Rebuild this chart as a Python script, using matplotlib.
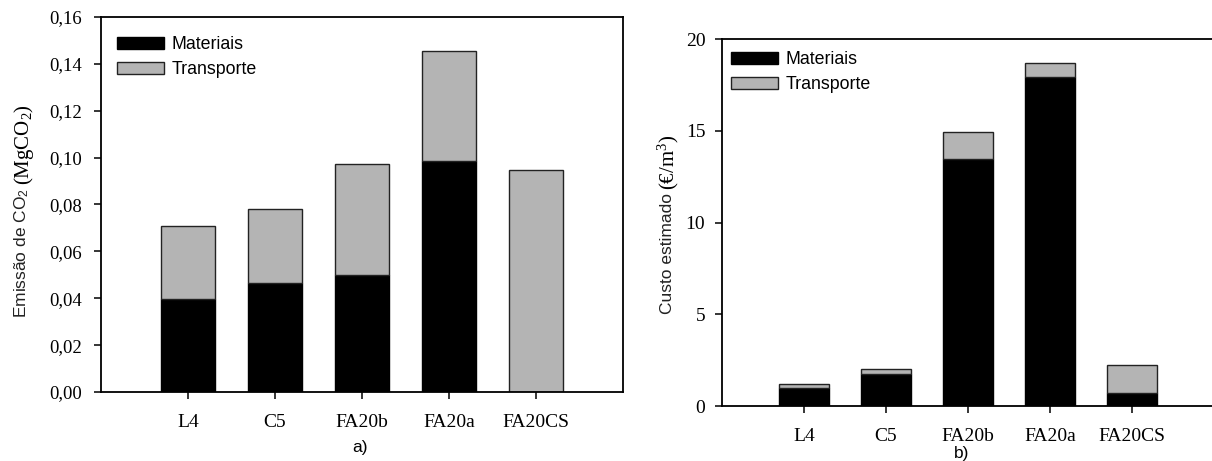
import numpy as np
import matplotlib
matplotlib.use("Agg")
import matplotlib.pyplot as plt
from matplotlib.patches import Patch
from matplotlib.ticker import FuncFormatter

plt.rcParams['mathtext.fontset'] = 'custom'
plt.rcParams['mathtext.rm'] = 'Liberation Serif'
plt.rcParams['mathtext.it'] = 'Liberation Serif:italic'
plt.rcParams['mathtext.sf'] = 'Liberation Sans'

# data
misturas = ["L4", "C5", "FA20b", "FA20a", "FA20CS"]
co2_materiais = [0.0398, 0.0467, 0.0499, 0.0984, 0.0]
co2_transporte = [0.0310, 0.0314, 0.0473, 0.0473, 0.0947]
custo_materiais = [0.96, 1.74, 13.46, 17.91, 0.69]
custo_transporte = [0.22, 0.28, 1.49, 0.80, 1.53]
co2_ticks = [0.00, 0.02, 0.04, 0.06, 0.08, 0.10, 0.12, 0.14, 0.16]
custo_ticks = [0, 5, 10, 15, 20]

cinza = '#b4b4b4'
serif = 'Liberation Serif'
sans = 'Liberation Sans'
W, H = 1212, 461

fig = plt.figure(figsize=(W / 100, H / 100), dpi=100)
ax1 = fig.add_axes([101 / W, 1 - 392 / H, (623 - 101) / W, (392 - 17) / H])
ax2 = fig.add_axes([722 / W, 1 - 406 / H, (1214 - 722) / W, (406 - 39) / H])

x = np.arange(len(misturas))
largura = 0.61

for ax, mat, tra in [(ax1, co2_materiais, co2_transporte),
                     (ax2, custo_materiais, custo_transporte)]:
    ax.bar(x, mat, largura, color='black', edgecolor='black', linewidth=1.0)
    ax.bar(x, tra, largura, bottom=mat, color=cinza, edgecolor='#222222', linewidth=1.0)
    ax.set_xlim(-1, 5)
    ax.set_xticks(x)
    ax.set_xticklabels(misturas, fontfamily=serif, fontsize=14)
    ax.tick_params(axis='x', direction='out', length=5, width=1.1, pad=11, top=False)
    ax.tick_params(axis='y', direction='out', length=5, width=1.1, right=False)
    for s in ax.spines.values():
        s.set_linewidth(1.3)

ax1.set_ylim(0, 0.16)
ax1.set_yticks(co2_ticks)
ax1.yaxis.set_major_formatter(FuncFormatter(lambda v, p: f"{v:.2f}".replace('.', ',')))
ax1.tick_params(axis='y', pad=9)
for t in ax1.get_yticklabels():
    t.set_fontfamily(serif)
    t.set_fontsize(13.5)

ax2.set_ylim(0, 20)
ax2.set_yticks(custo_ticks)
ax2.tick_params(axis='y', pad=7)
for t in ax2.get_yticklabels():
    t.set_fontfamily(serif)
    t.set_fontsize(14)
ax2.spines['right'].set_visible(False)

# y labels: sans part + serif part
fig.text(22 / W, 1 - 188 / H, r"Emissão de CO$_\mathsf{2}$", rotation=90, rotation_mode='anchor',
         ha='right', va='center', fontfamily=sans, fontsize=12.5, color='#222222')
fig.text(24 / W, 1 - 185 / H, r"$\mathrm{(MgCO_2)}$", rotation=90, rotation_mode='anchor',
         ha='left', va='center', fontsize=15)
fig.text(668 / W, 1 - 193 / H, "Custo estimado", rotation=90, rotation_mode='anchor',
         ha='right', va='center', fontfamily=sans, fontsize=12.5, color='#222222')
fig.text(668 / W, 1 - 190 / H, r"$\mathrm{(€/m^3)}$", rotation=90, rotation_mode='anchor',
         ha='left', va='center', fontsize=15)

# legends
handles = [Patch(facecolor='black', edgecolor='black', label='Materiais'),
           Patch(facecolor=cinza, edgecolor='#222222', label='Transporte')]
for ax, pos in [(ax1, (117 / W, 1 - 36 / H)), (ax2, (731 / W, 1 - 51 / H))]:
    ax.legend(handles=handles, loc='upper left', bbox_to_anchor=pos,
              bbox_transform=fig.transFigure, frameon=False, borderpad=0,
              borderaxespad=0, handlelength=2.65, handleheight=0.65,
              handletextpad=0.4, labelspacing=0.45,
              prop={'family': sans, 'size': 12.8})

fig.text(360 / W, 1 - 447 / H, "a)", ha='center', va='center', fontfamily=sans, fontsize=12.5)
fig.text(962 / W, 1 - 453 / H, "b)", ha='center', va='center', fontfamily=sans, fontsize=12.5)

fig.savefig("out.png", dpi=100)
